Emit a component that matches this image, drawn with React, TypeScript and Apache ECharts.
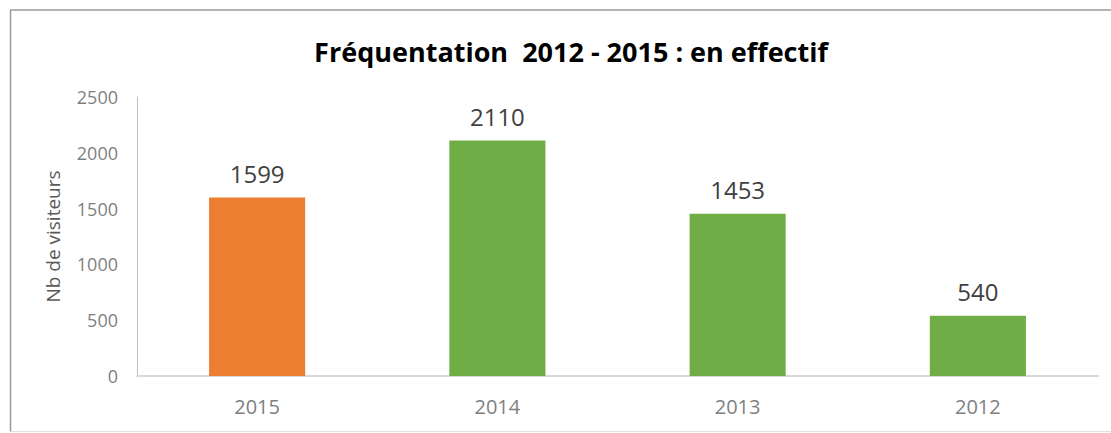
import React, { useEffect, useRef } from "react";
import * as echarts from "echarts";

const titleText = "Fréquentation  2012 - 2015 : en effectif";
const yAxisName = "Nb de visiteurs";
const categories = ["2015", "2014", "2013", "2012"];
const visitors = [1599, 2110, 1453, 540];
const barColors = ["#ED7D31", "#70AD47", "#70AD47", "#70AD47"];
const yTicks = { min: 0, max: 2500, interval: 500 };

const FONT = "'Open Sans', 'Noto Sans', sans-serif";

export default function App() {
  const ref = useRef<HTMLDivElement>(null);
  useEffect(() => {
    document.body.style.margin = "0";
    const chart = echarts.init(ref.current!, null, { renderer: "svg" });
    chart.setOption({
      animation: false,
      backgroundColor: "#ffffff",
      title: {
        text: titleText,
        left: 566,
        textAlign: "center",
        top: 33,
        textStyle: { fontFamily: FONT, fontSize: 27, fontWeight: "bold", color: "#000000" },
      },
      grid: { left: 137, right: 13, top: 97, bottom: 57 },
      xAxis: {
        type: "category",
        data: categories,
        axisLine: { show: true, lineStyle: { color: "#d9d9d9", width: 2 } },
        axisTick: { show: false },
        axisLabel: { color: "#7f7f7f", fontSize: 20, fontFamily: FONT, margin: 20 },
      },
      yAxis: {
        type: "value",
        min: yTicks.min,
        max: yTicks.max,
        interval: yTicks.interval,
        name: yAxisName,
        nameLocation: "middle",
        nameGap: 75,
        nameTextStyle: { color: "#595959", fontSize: 19, fontFamily: FONT },
        axisLine: { show: true, lineStyle: { color: "#bfbfbf", width: 1 } },
        axisTick: { show: false },
        splitLine: { show: false },
        axisLabel: {
          color: "#7f7f7f",
          fontSize: 18,
          fontFamily: FONT,
          margin: 19,
          formatter: (v: number) => String(v),
        },
      },
      series: [
        {
          type: "bar",
          data: visitors.map((v, i) => ({ value: v, itemStyle: { color: barColors[i] } })),
          barWidth: "40%",
          label: {
            show: true,
            position: "top",
            distance: 12,
            color: "#404040",
            fontSize: 24,
            fontFamily: FONT,
          },
        },
      ],
      graphic: [
        { type: "line", shape: { x1: 10, y1: 10, x2: 1111, y2: 10 }, style: { stroke: "#9a9a9a", lineWidth: 1.5 } },
        { type: "line", shape: { x1: 10.5, y1: 10, x2: 10.5, y2: 432 }, style: { stroke: "#9a9a9a", lineWidth: 1.5 } },
        { type: "line", shape: { x1: 10, y1: 431.5, x2: 1111, y2: 431.5 }, style: { stroke: "#e0e0e0", lineWidth: 1 } },
      ],
    });
    return () => chart.dispose();
  }, []);
  return <div ref={ref} style={{ width: 1111, height: 433 }} />;
}
